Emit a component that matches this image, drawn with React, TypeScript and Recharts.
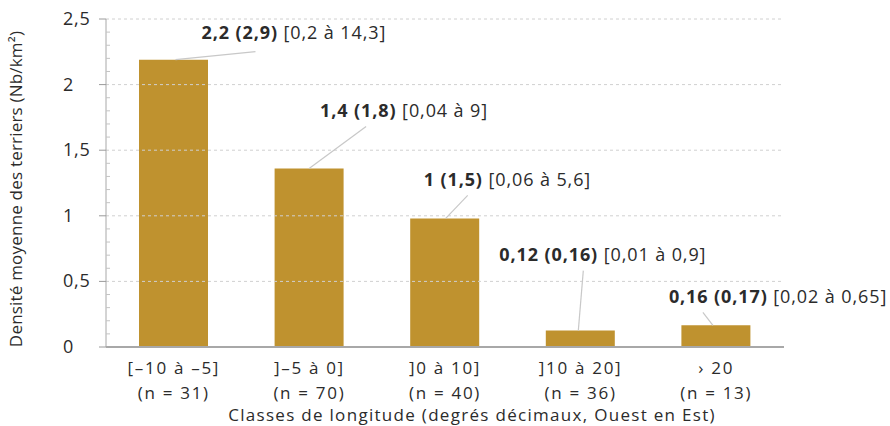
import React from 'react';
import { BarChart, Bar, XAxis, YAxis, ReferenceLine, LabelList, Label } from 'recharts';

const categories = ['[–10 à –5]', ']–5 à 0]', ']0 à 10]', ']10 à 20]', '› 20'];
const sampleSizes = ['(n = 31)', '(n = 70)', '(n = 40)', '(n = 36)', '(n = 13)'];
const meanDensity = [2.19, 1.36, 0.98, 0.125, 0.165];
const meanLabels = ['2,2 (2,9)', '1,4 (1,8)', '1 (1,5)', '0,12 (0,16)', '0,16 (0,17)'];
const intervalLabels = ['[0,2 à 14,3]', '[0,04 à 9]', '[0,06 à 5,6]', '[0,01 à 0,9]', '[0,02 à 0,65]'];
const yTicks = [0, 0.1, 0.2, 0.3, 0.4, 0.5, 0.6, 0.7, 0.8, 0.9, 1, 1.1, 1.2, 1.3, 1.4, 1.5, 1.6, 1.7, 1.8, 1.9, 2, 2.1, 2.2, 2.3, 2.4, 2.5];
const majorTicks = [0, 0.5, 1, 1.5, 2, 2.5];
const majorTickLabels = ['0', '0,5', '1', '1,5', '2', '2,5'];

// label placement relative to the bar top centre (text start dx, text middle dy, leader start/end)
const labelPlacement = [
  { tx: 28, ty: -27, x1: 2, y1: 0, x2: 82, y2: -8 },
  { tx: 11, ty: -58, x1: 0, y1: 0, x2: 57, y2: -42 },
  { tx: -21, ty: -38, x1: 1, y1: 0, x2: 23, y2: -23 },
  { tx: -81, ty: -76, x1: -2, y1: 0, x2: 3, y2: -60 },
  { tx: -47, ty: -28, x1: -3, y1: 0, x2: -13, y2: -13 },
];

const data = categories.map((c, i) => ({
  category: c,
  n: sampleSizes[i],
  value: meanDensity[i],
  mean: meanLabels[i],
  interval: intervalLabels[i],
}));

const FONT = '"Open Sans", "DejaVu Sans", sans-serif';
const TEXT = '#2b2b2b';
const BAR = '#BF922F';

const YTick = (props: any) => {
  const { x, y, payload } = props;
  const v = payload.value;
  const idx = majorTicks.findIndex((m) => Math.abs(m - v) < 1e-6);
  if (idx >= 0) {
    return (
      <g>
        <line x1={x - 7} x2={x} y1={y} y2={y} stroke="#9a9a9a" strokeWidth={1} />
        <text x={x - 43} y={y + 6} fontSize={18} letterSpacing={0.8} fill={TEXT} fontFamily={FONT} textAnchor="start">
          {majorTickLabels[idx]}
        </text>
      </g>
    );
  }
  return <line x1={x} x2={x + 4} y1={y} y2={y} stroke="#c4c4c4" strokeWidth={1} />;
};

const XTick = (props: any) => {
  const { x, y, payload, index } = props;
  return (
    <g>
      <text x={x} y={y + 27} fontSize={17} letterSpacing={1.7} fill={TEXT} fontFamily={FONT} textAnchor="middle">
        {payload.value}
      </text>
      <text x={x} y={y + 52} fontSize={17} letterSpacing={1.7} fill={TEXT} fontFamily={FONT} textAnchor="middle">
        {sampleSizes[index]}
      </text>
    </g>
  );
};

const BarLabel = (props: any) => {
  const { x, y, width, index } = props;
  const p = labelPlacement[index];
  const cx = x + width / 2;
  return (
    <g>
      <line x1={cx + p.x1} y1={y + p.y1} x2={cx + p.x2} y2={y + p.y2} stroke="#c8c8c8" strokeWidth={1.2} />
      <text x={cx + p.tx} y={y + p.ty + 6} fontSize={18} letterSpacing={0.9} fill={TEXT} fontFamily={FONT}>
        <tspan fontWeight="bold">{meanLabels[index]}</tspan>
        <tspan> {intervalLabels[index]}</tspan>
      </text>
    </g>
  );
};

export default function App() {
  return (
    <div style={{ position: 'absolute', left: 0, top: 0, width: 890, height: 426, background: '#fff', fontFamily: FONT }}>
      <BarChart width={890} height={426} data={data} margin={{ top: 19, right: 106, bottom: 0, left: 0 }}>
        <XAxis
          dataKey="category"
          tick={<XTick />}
          tickLine={false}
          tickSize={0}
          tickMargin={0}
          interval={0}
          axisLine={{ stroke: '#a8a8a8', strokeWidth: 2 }}
          height={79}
        >
          <Label
            content={(lp: any) => {
              const vb = lp.viewBox;
              return (
                <text x={vb.x + vb.width / 2 + 27} y={vb.y + 74} fontSize={17} letterSpacing={1.3} fill={TEXT} fontFamily={FONT} textAnchor="middle">
                  Classes de longitude (degrés décimaux, Ouest en Est)
                </text>
              );
            }}
          />
        </XAxis>
        <YAxis
          type="number"
          domain={[0, 2.5]}
          ticks={yTicks}
          interval={0}
          tick={<YTick />}
          tickLine={false}
          tickSize={0}
          tickMargin={0}
          axisLine={{ stroke: '#a8a8a8', strokeWidth: 1 }}
          width={106}
        >
          <Label
            content={(lp: any) => {
              const vb = lp.viewBox;
              return (
                <text
                  transform={`translate(22, ${vb.y + vb.height / 2 + 6}) rotate(-90)`}
                  fontSize={17}
                  letterSpacing={0.2}
                  fill={TEXT}
                  fontFamily={FONT}
                  textAnchor="middle"
                >
                  Densité moyenne des terriers (Nb/km²)
                </text>
              );
            }}
          />
        </YAxis>
        {majorTicks.slice(1).map((v) => (
          <ReferenceLine key={v} y={v} stroke="#d0d0d0" strokeDasharray="3 3" />
        ))}
        <Bar dataKey="value" fill={BAR} barSize={69} isAnimationActive={false}>
          <LabelList dataKey="value" content={<BarLabel />} />
        </Bar>
      </BarChart>
    </div>
  );
}
